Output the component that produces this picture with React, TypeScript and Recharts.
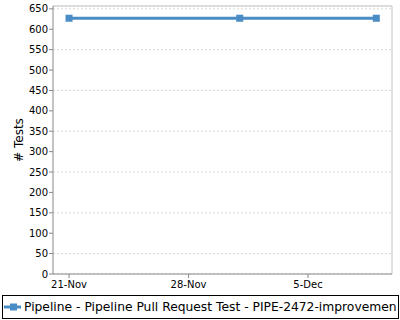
import React from 'react';
import { LineChart, Line, XAxis, YAxis, CartesianGrid, Legend, ReferenceLine, Label } from 'recharts';

// Day offsets from 21-Nov for each build
const buildDays = [0, 10, 18];
const testCounts = [627, 627, 627];
const seriesName = 'Pipeline - Pipeline Pull Request Test - PIPE-2472-improvemen';
const xTickValues = [0, 7, 14];
const xTickLabels = ['21-Nov', '28-Nov', '5-Dec'];
const yTickValues = [0, 50, 100, 150, 200, 250, 300, 350, 400, 450, 500, 550, 600, 650];

const data = buildDays.map((d, i) => ({ day: d, tests: testCounts[i] }));

const X_MIN = -0.94;
const X_MAX = 18.92;
const Y_MAX = 657;
const FONT = 'DejaVu Sans';
const COLOR = '#4a8cc6';

const Square = (props: any) => {
  const { cx, cy } = props;
  if (cx == null || cy == null) return null;
  return <rect x={cx - 3.5} y={cy - 3.5} width={7} height={7} fill={COLOR} />;
};

const LegendContent = () => (
  <div
    style={{
      boxSizing: 'border-box',
      width: 397,
      height: 24,
      border: '1px solid #000',
      overflow: 'hidden',
      whiteSpace: 'nowrap',
      display: 'flex',
      alignItems: 'center',
      fontFamily: FONT,
      fontSize: 12.3,
      color: '#000',
      background: '#fff',
    }}
  >
    <svg width={19} height={10} style={{ flex: 'none', marginLeft: 1 }}>
      <line x1={0} y1={5} x2={17} y2={5} stroke={COLOR} strokeWidth={3} />
      <rect x={6} y={1.5} width={7} height={7} fill={COLOR} />
    </svg>
    <span style={{ marginLeft: 1 }}>{seriesName}</span>
  </div>
);

export default function App() {
  return (
    <div style={{ position: 'absolute', left: 0, top: 0, width: 400, height: 320, background: '#fff' }}>
      <LineChart width={400} height={320} data={data} margin={{ top: 6, right: 8, bottom: 0, left: 0 }}>
        <CartesianGrid horizontal vertical={false} stroke="#d8d8d8" strokeDasharray="2 2" />
        <XAxis
          dataKey="day"
          type="number"
          domain={[X_MIN, X_MAX]}
          ticks={xTickValues}
          tickFormatter={(v: number) => xTickLabels[xTickValues.indexOf(v)] ?? ''}
          allowDataOverflow
          height={22}
          tickSize={4}
          tickMargin={3}
          axisLine={{ stroke: '#888888' }}
          tickLine={{ stroke: '#888888' }}
          tick={{ fill: '#000', fontSize: 10, fontFamily: FONT }}
        />
        <YAxis
          type="number"
          domain={[0, Y_MAX]}
          ticks={yTickValues}
          allowDataOverflow
          width={53}
          tickSize={4}
          tickMargin={1}
          axisLine={{ stroke: '#888888' }}
          tickLine={{ stroke: '#888888' }}
          tick={{ fill: '#000', fontSize: 10, fontFamily: FONT }}
        >
          <Label
            value="# Tests"
            angle={-90}
            position="center"
            dx={-8}
            style={{ fontSize: 12, fontFamily: FONT, fill: '#000' }}
          />
        </YAxis>
        <ReferenceLine y={Y_MAX} stroke="#c4c4c4" strokeWidth={1} />
        <ReferenceLine x={X_MAX} stroke="#c4c4c4" strokeWidth={1} />
        <Legend
          verticalAlign="bottom"
          content={<LegendContent />}
          wrapperStyle={{ left: 2, bottom: 1, width: 397, height: 24 }}
        />
        <Line
          dataKey="tests"
          name={seriesName}
          stroke={COLOR}
          strokeWidth={3}
          dot={<Square />}
          activeDot={false}
          isAnimationActive={false}
        />
      </LineChart>
    </div>
  );
}
